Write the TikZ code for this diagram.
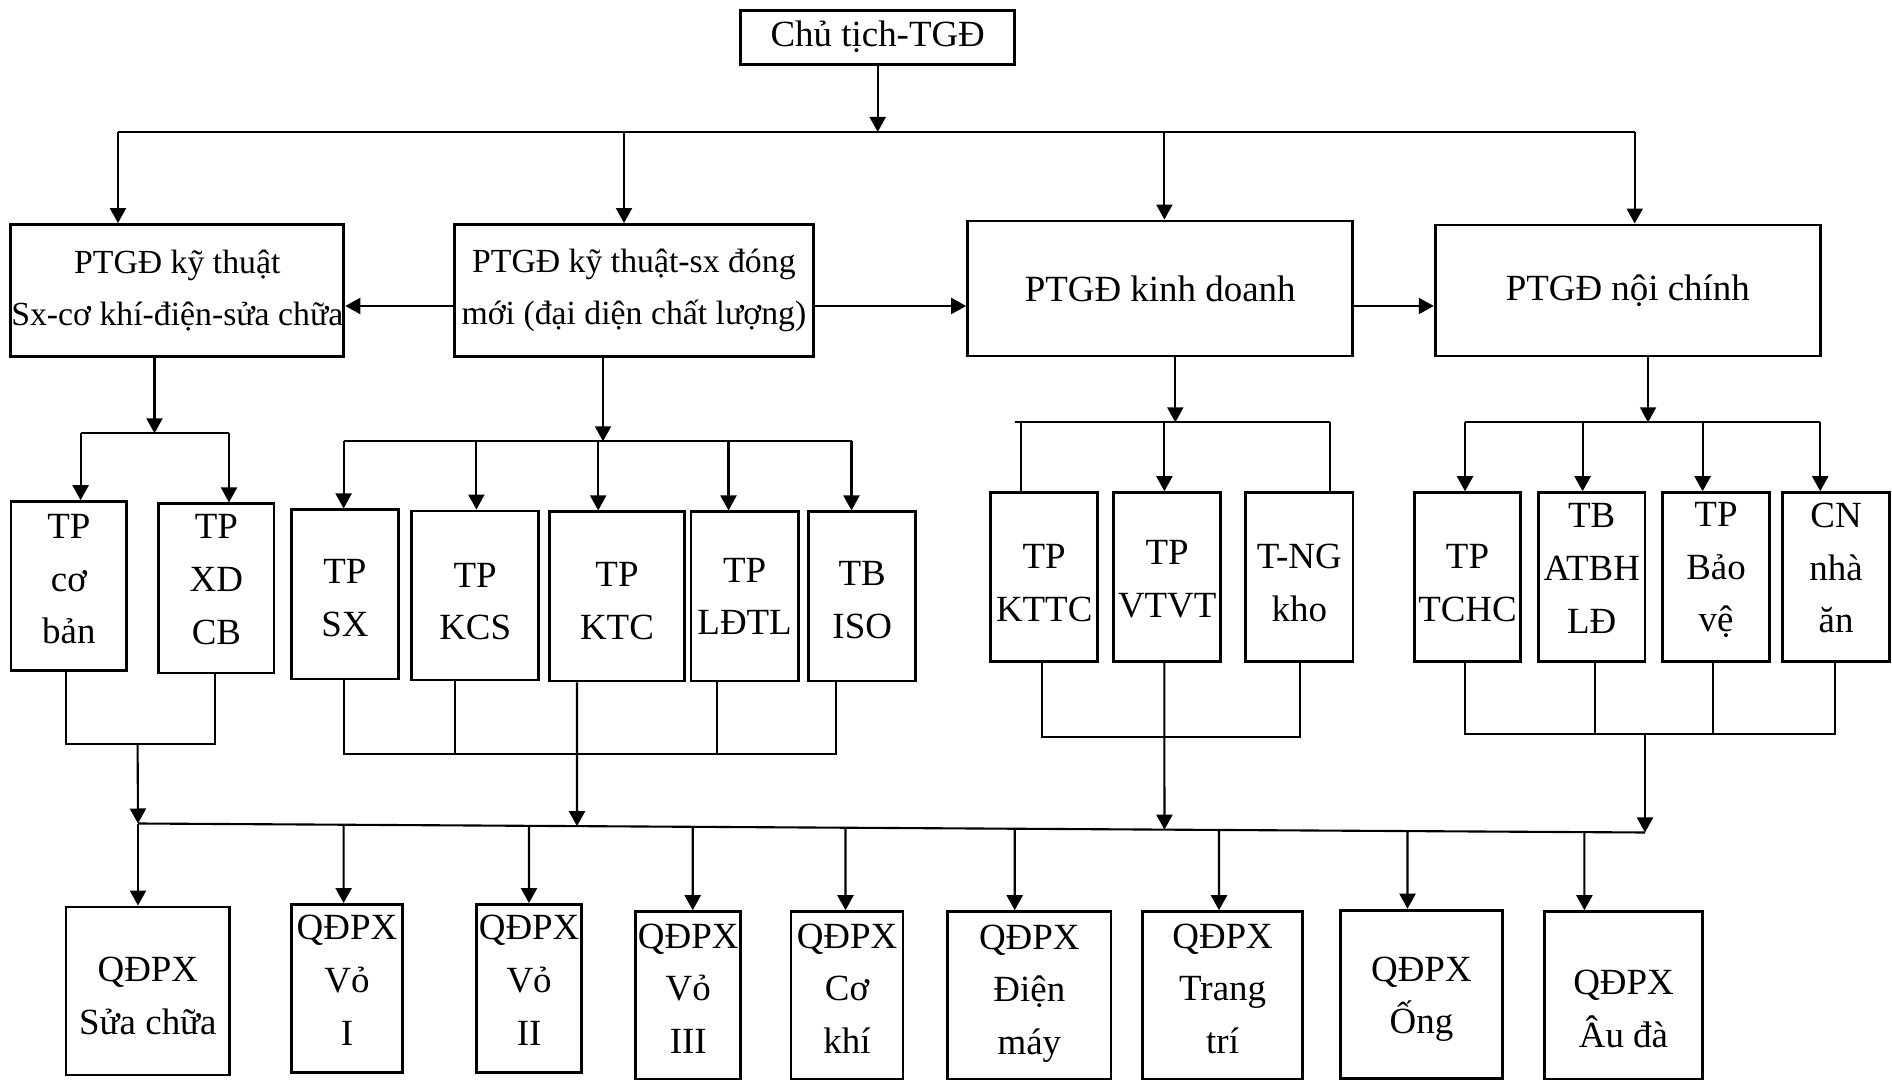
\documentclass[tikz,border=0pt]{standalone}
\usepackage{fontspec}
\setmainfont{Liberation Serif}
\usetikzlibrary{arrows.meta,calc}

\begin{document}
\begin{tikzpicture}[x=0.01cm,y=-0.01cm]
    \tikzset{
      unit/.style={draw,line width=0.8pt,inner sep=0pt,align=center,font=\fontsize{10.5}{15}\selectfont},
      head/.style={unit,minimum height=1.32cm},
      dept/.style={unit,minimum height=1.69cm},
      shop/.style={unit,minimum height=1.68cm},
      txt/.style={inner sep=0pt,align=center,font=\fontsize{10.5}{15}\selectfont},
      wire/.style={line width=0.6pt},
      feed/.style={wire,-{Triangle[length=1.5mm,width=1.6mm]}}
    }
    \useasboundingbox (0,0) rectangle (1892,1080);
    \node[unit,minimum width=2.74cm,minimum height=0.54cm] (ct) at (877.7,37.2) {Chủ tịch-TGĐ};
    \node[head,minimum width=3.33cm,font=\fontsize{9.6}{15}\selectfont] (kt) at (177.3,290.5) {PTGĐ kỹ thuật\\Sx-cơ khí-điện-sửa chữa};
    \node[head,minimum width=3.59cm,font=\fontsize{9.6}{15}\selectfont] (ktsx) at (633.9,290.5) {PTGĐ kỹ thuật-sx đóng\\mới (đại diện chất lượng)};
    \node[head,minimum width=3.85cm,minimum height=1.35cm] (kd) at (1160.2,288.5) {PTGĐ kinh doanh};
    \node[head,minimum width=3.85cm,minimum height=1.31cm] (nc) at (1627.8,290.5) {PTGĐ nội chính};
    \foreach \n/\cx/\cy/\w/\dy/\t in {cb/68.9/586.2/115.7/-7/{TP\\cơ\\bản},xdcb/216.4/588.4/115.2/-9/{TP\\XD\\CB},
        sx/344.9/594.4/106.7/4/{TP\\SX},kcs/475.2/595.5/127.3/6/{TP\\KCS},ktc/617/596.4/134.5/5/{TP\\KTC},
        ldtl/744.6/596.4/107.3/0/{TP\\LĐTL},iso/862.2/596.4/107.3/4/{TB\\ISO},
        kttc/1044.2/577.2/107.3/6/{TP\\KTTC},vtvt/1167.2/577.2/107.3/2/{TP\\VTVT},tng/1299.3/577.2/107.3/6/{T-NG\\kho},
        tchc/1467.5/577.2/106.7/6/{TP\\TCHC},atbh/1591.7/577.2/106.6/-9/{TB\\ATBH\\LĐ},
        bv/1716/577.2/106.7/-7/{TP\\Bảo\\vệ},cn/1836/577.2/106.7/-9/{CN\\nhà\\ăn}}
    {
      \node[dept,minimum width=\w*0.01cm] (\n) at (\cx,\cy) {};
      \node[txt] (\n-t) at ({\cx},{\cy+(\dy)}) {\t};
    }
    \foreach \n/\cx/\cy/\w/\dy/\t in {sc/147.9/991/163.7/5/{QĐPX\\Sửa chữa},v1/347/988.5/110.9/-8/{QĐPX\\Vỏ\\I},
        v2/529.1/988.5/105.4/-8/{QĐPX\\Vỏ\\II},v3/688.2/995.7/104.8/-7/{QĐPX\\Vỏ\\III},ck/847/995.7/112/-7/{QĐPX\\Cơ\\khí},
        dm/1029.3/995.7/163.5/-2/{QĐPX\\Điện\\máy},tt/1222.6/995.7/160/-7/{QĐPX\\Trang\\trí},
        ong/1421.4/994.2/162.4/5/{QĐPX\\Ống},ad/1623.5/995.7/158.2/13/{QĐPX\\Âu đà}}
    {
      \node[shop,minimum width=\w*0.01cm] (\n) at (\cx,\cy) {};
      \node[txt] (\n-t) at ({\cx},{\cy+(\dy)}) {\t};
    }

    \coordinate (busL) at (118,132);
    \coordinate (busR) at (1634.7,132);
    \draw[wire] (busL) -- (busR);
    \draw[feed] (ct.south) -- (ct.south |- busL);
    \foreach \x/\n in {118/kt,624/ktsx,1164.4/kd,1634.7/nc}
      \draw[feed] (\x,132) -- (\x,0 |- \n.north);
    \draw[feed] (ktsx.west |- 0,306) -- (kt.east |- 0,306);
    \draw[feed] (ktsx.east |- 0,306) -- (kd.west |- 0,306);
    \draw[feed] (kd.east |- 0,306) -- (nc.west |- 0,306);

    \draw[feed] (154.5,0 |- kt.south) -- (154.5,433.3);
    \draw[wire] (80.6,433.3) -- (229,433.3);
    \draw[feed] (80.6,433.3) -- (80.6,0 |- cb.north);
    \draw[feed] (229,433.3) -- (229,0 |- xdcb.north);

    \draw[feed] (603,0 |- ktsx.south) -- (603,441.3);
    \draw[wire] (343.6,441.3) -- (851.5,441.3);
    \foreach \x/\n in {343.6/sx,476.4/kcs,598.2/ktc,728.5/ldtl,851.5/iso}
      \draw[feed] (\x,441.3) -- (\x,0 |- \n.north);

    \draw[feed] (1175.3,0 |- kd.south) -- (1175.3,422.3);
    \draw[wire] (1014.7,422.3) -- (1329.9,422.3);
    \draw[wire] (1020.8,422.3) -- (1020.8,0 |- kttc.north);
    \draw[feed] (1164.4,422.3) -- (1164.4,0 |- vtvt.north);
    \draw[wire] (1329.9,422.3) -- (1329.9,0 |- tng.north);

    \draw[feed] (1648,0 |- nc.south) -- (1648,422.3);
    \draw[wire] (1465,422.3) -- (1820.2,422.3);
    \foreach \x/\n in {1465/tchc,1582.6/atbh,1702.6/bv,1820.2/cn}
      \draw[feed] (\x,422.3) -- (\x,0 |- \n.north);

    \coordinate (qL) at (138,823.5);
    \coordinate (qR) at (1645,832.5);
    \draw[wire] (qL) -- (qR);

    \draw[wire] (66,0 |- cb.south) |- (215,744.3) -- (215,0 |- xdcb.south);
    \draw[feed] (137.6,744.3) -- (qL);

    \draw[wire] (343.6,0 |- sx.south) |- (835.8,754) -- (835.8,0 |- iso.south);
    \draw[wire] (455,0 |- kcs.south) -- (455,754);
    \draw[wire] (717,0 |- ldtl.south) -- (717,754);
    \draw[feed] (577,0 |- ktc.south) -- ($(qL)!0.2913!(qR)$);

    \draw[wire] (1042,0 |- kttc.south) |- (1300.2,736.7) -- (1300.2,0 |- tng.south);
    \draw[feed] (1164.4,0 |- vtvt.south) -- ($(qL)!0.6811!(qR)$);

    \draw[wire] (1465,0 |- tchc.south) |- (1834.7,734.3) -- (1834.7,0 |- cn.south);
    \draw[wire] (1594.7,0 |- atbh.south) -- (1594.7,734.3);
    \draw[wire] (1713,0 |- bv.south) -- (1713,734.3);
    \draw[feed] (1645,734.3) -- (qR);

    \foreach \x/\n [evaluate=\x as \f using (\x-138)/1507] in {138/sc,343.6/v1,529/v2,692.7/v3,845.5/ck,
        1014.7/dm,1219/tt,1407.5/ong,1584.4/ad}
      \draw[feed] ($(qL)!\f!(qR)$) -- (\x,0 |- \n.north);
  \end{tikzpicture}
\end{document}
